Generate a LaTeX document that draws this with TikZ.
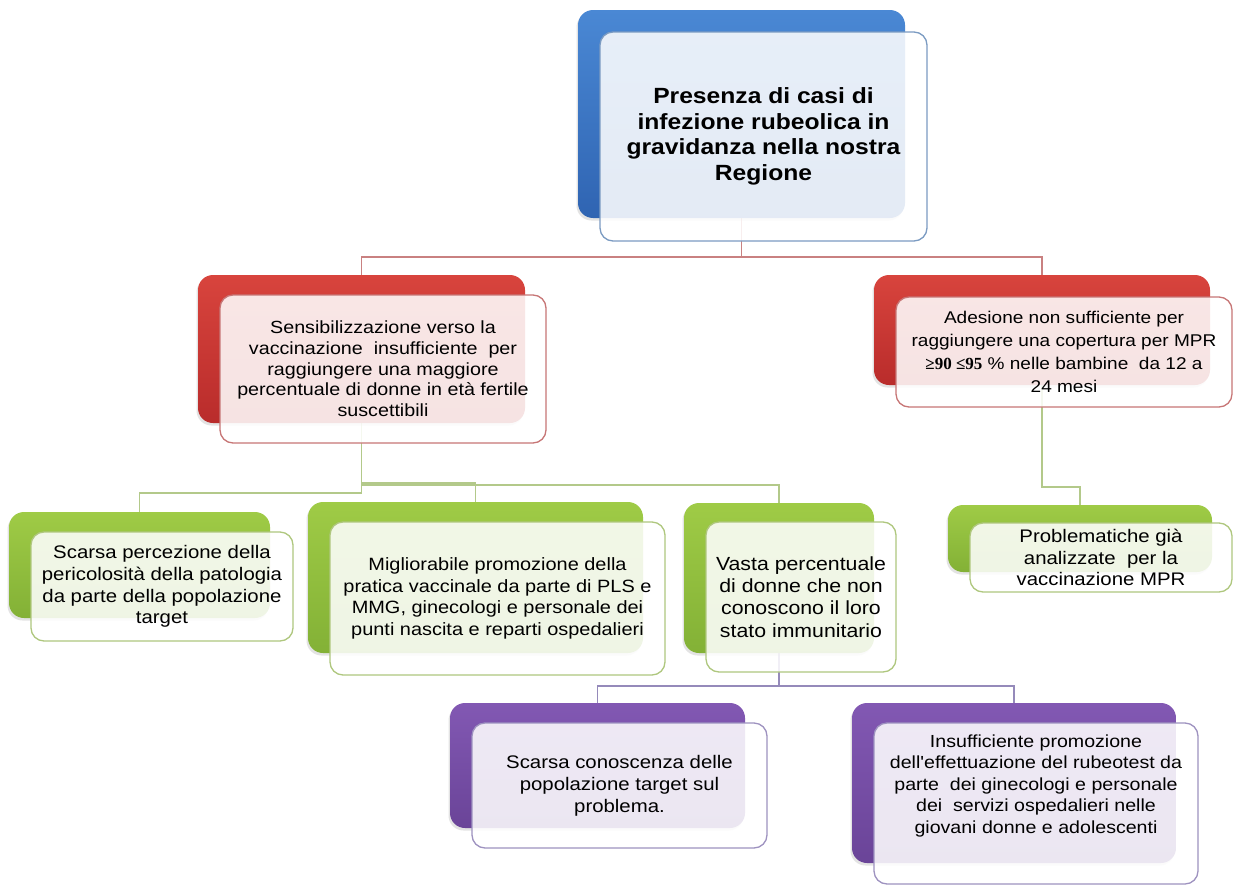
\documentclass[tikz,border=0pt]{standalone}
\usepackage{fontspec}
\usetikzlibrary{shadows}
\newfontfamily\bodyf{Liberation Sans}[FakeStretch=1.12]
\newfontfamily\serf{Liberation Serif}
\definecolor{blueT}{HTML}{4A88D4}
\definecolor{blueB}{HTML}{2F64B2}
\definecolor{redT}{HTML}{D8443D}
\definecolor{redB}{HTML}{B92C2B}
\definecolor{grnT}{HTML}{9FCB46}
\definecolor{grnB}{HTML}{83B136}
\definecolor{purT}{HTML}{8258B3}
\definecolor{purB}{HTML}{6A4498}
\definecolor{blueE}{HTML}{7B9BC2}
\definecolor{redE}{HTML}{C77676}
\definecolor{grnE}{HTML}{AFC77E}
\definecolor{purE}{HTML}{9E92C0}
\definecolor{redL}{HTML}{C98181}
\definecolor{grnL}{HTML}{B3C98A}
\definecolor{purL}{HTML}{958ABA}
\pgfdeclarelayer{bg}
\pgfsetlayers{bg,main}
\begin{document}
\begin{tikzpicture}[x=1pt,y=-1pt,
  bk/.style={rounded corners=15pt, draw=none, inner sep=0pt, outer sep=0pt, anchor=north west,
    drop shadow={shadow xshift=-1.5pt, shadow yshift=-2.5pt, opacity=0.22}},
  fr/.style={rounded corners=13pt, fill=white, fill opacity=0.87, text opacity=1, line width=1.3pt,
    inner sep=0pt, outer sep=0pt, anchor=north west, align=center, text=black,
    font=\bodyf\fontsize{18}{21.5}\selectfont},
  txt/.style={inner sep=0pt, align=center, text=black},
  ln/.style={line width=1.3pt},
]
\useasboundingbox (0,0) rectangle (1234,886);

% back boxes
\node[bk, top color=blueT, bottom color=blueB, minimum width=327, minimum height=208] (topB) at (578,10) {};
\node[bk, top color=redT, bottom color=redB, minimum width=327, minimum height=148] (rlB) at (198,275) {};
\node[bk, top color=redT, bottom color=redB, minimum width=336, minimum height=110] (rrB) at (874,275) {};
\node[bk, top color=grnT, bottom color=grnB, minimum width=261, minimum height=106] (spB) at (9,512) {};
\node[bk, top color=grnT, bottom color=grnB, minimum width=335, minimum height=151] (mgB) at (308,502) {};
\node[bk, top color=grnT, bottom color=grnB, minimum width=190, minimum height=150] (vaB) at (684,503) {};
\node[bk, top color=grnT, bottom color=grnB, minimum width=264, minimum height=67] (prB) at (948,505) {};
\node[bk, top color=purT, bottom color=purB, minimum width=295, minimum height=125] (scB) at (450,703) {};
\node[bk, top color=purT, bottom color=purB, minimum width=324, minimum height=160] (inB) at (852,703) {};

% front boxes
\node[fr, draw=blueE, minimum width=327, minimum height=209,
  font=\bodyf\bfseries\fontsize{22}{25.5}\selectfont] (topF) at (600,32)
  {Presenza di casi di\\infezione rubeolica in\\gravidanza nella nostra\\Regione};
\node[fr, draw=redE, minimum width=326, minimum height=148,
  font=\bodyf\fontsize{17.6}{20.7}\selectfont] (rlF) at (220,295)
  {Sensibilizzazione verso la\\vaccinazione\ \ insufficiente\ \ per\\raggiungere una maggiore\\percentuale di donne in età fertile\\suscettibili};
\node[fr, draw=redE, minimum width=336, minimum height=110,
  font=\bodyf\fontsize{17}{23}\selectfont] (rrF) at (896,297)
  {Adesione non sufficiente per\\raggiungere una copertura per MPR\\{\serf\bfseries ≥90 ≤95} \% nelle bambine\ \ da 12 a\\24 mesi};
\node[fr, draw=grnE, minimum width=262, minimum height=109,
  font=\bodyf\fontsize{18.2}{21.7}\selectfont] (spF) at (31,532)
  {Scarsa percezione della\\pericolosità della patologia\\da parte della popolazione\\target};
\node[fr, draw=grnE, minimum width=335, minimum height=153,
  font=\bodyf\fontsize{17.8}{21.5}\selectfont] (mgF) at (330,522)
  {Migliorabile promozione della\\pratica vaccinale da parte di PLS e\\MMG, ginecologi e personale dei\\punti nascita e reparti ospedalieri};
\node[fr, draw=grnE, minimum width=190, minimum height=150,
  font=\bodyf\fontsize{19}{22.3}\selectfont] (vaF) at (706,522)
  {Vasta percentuale\\di donne che non\\conoscono il loro\\stato immunitario};
\node[fr, draw=grnE, minimum width=262, minimum height=69,
  font=\bodyf\fontsize{18.2}{21.7}\selectfont] (prF) at (970,523)
  {Problematiche già\\analizzate\ \ per la\\vaccinazione MPR};
\node[fr, draw=purE, minimum width=295, minimum height=125,
  font=\bodyf\fontsize{18.2}{21.8}\selectfont] (scF) at (472,723)
  {Scarsa conoscenza delle\\popolazione target sul\\problema.};
\node[fr, draw=purE, minimum width=324, minimum height=161] (inF) at (874,723) {};
\node[txt, font=\bodyf\fontsize{17.5}{21.5}\selectfont] (inT) at ([yshift=18pt]inF.center)
  {Insufficiente promozione\\dell'effettuazione del rubeotest da\\parte\ \ dei ginecologi e personale\\dei\ \ servizi ospedalieri nelle\\giovani donne e adolescenti};

% junction levels
\coordinate (yTop) at (0,257);
\coordinate (yG1) at (0,493);
\coordinate (yG2) at (0,483);
\coordinate (yG3) at (0,485);
\coordinate (yG4) at (0,487);
\coordinate (yP) at (0,686);

\begin{pgfonlayer}{bg}
\fill[white] (0,0) rectangle (1234,886);
\draw[ln, redL] (topB.south) -- (topB.south |- yTop) -| (rlB.north);
\draw[ln, redL] (topB.south |- yTop) -| (rrB.north);
\draw[ln, grnL] (rlB.south) -- (rlB.south |- yG1) -| (spB.north);
\draw[ln, grnL] (rlB.south |- yG2) -| (mgB.north);
\draw[ln, grnL] (rlB.south |- yG3) -| (vaB.north);
\draw[ln, grnL] (rrB.south) -- (rrB.south |- yG4) -| (prB.north);
\draw[ln, purL] (vaB.south) -- (vaB.south |- yP) -| (scB.north);
\draw[ln, purL] (vaB.south |- yP) -| (inB.north);
\end{pgfonlayer}
\end{tikzpicture}
\end{document}
